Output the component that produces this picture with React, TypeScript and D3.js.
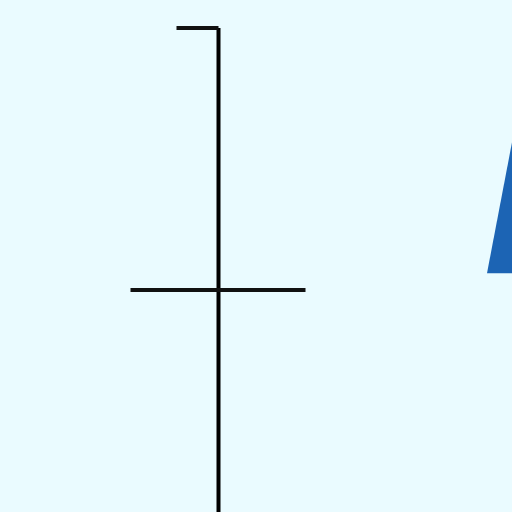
import React from "react";
import * as d3 from "d3";

// zoomed-in view of an error bar chart
const centers = [5.0, 5.32];
const uppers = [10.0];
const lowers = [-0.8];

const width = 512;
const height = 512;

const App = () => {
  const x = d3.scaleLinear().domain([0, 1]).range([218.5, 537]);
  const y = d3.scaleLinear().domain([0, 10]).range([552, 28]);

  const cx = x(0);
  const yc = y(centers[0]);
  const yu = y(uppers[0]);
  const yl = y(lowers[0]);

  // triangle marker for second series
  const tx = x(1);
  const triBase = y(centers[1]);
  const triTop = triBase - 262;
  const tri = d3.line()([
    [tx - 50, triBase],
    [tx, triTop],
    [tx + 50, triBase],
  ]);

  return (
    <svg
      width={width}
      height={height}
      style={{ position: "fixed", left: 0, top: 0, background: "#eafbff" }}
    >
      <rect width={width} height={height} fill="#eafbff" />
      <path d={tri || ""} fill="#1c64b4" />
      <line x1={cx} x2={cx} y1={yu} y2={yl} stroke="#000" strokeWidth={4} />
      <line x1={cx - 42} x2={cx} y1={yu} y2={yu} stroke="#111" strokeWidth={4} />
      <line x1={cx - 88} x2={cx + 87} y1={yc} y2={yc} stroke="#111" strokeWidth={4} />
    </svg>
  );
};

export default App;
